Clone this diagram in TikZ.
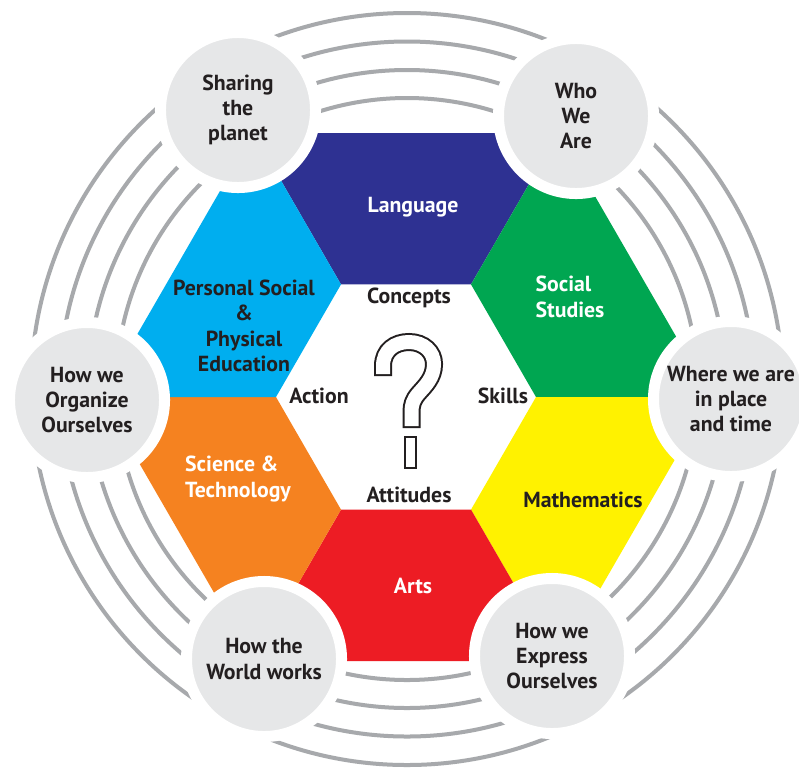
\documentclass[tikz,border=0pt]{standalone}
\usepackage{fontspec}
\setmainfont{PT Sans}
\usepackage{tikz}

\definecolor{langblue}{HTML}{2E3192}
\definecolor{socgreen}{HTML}{00A651}
\definecolor{mathyellow}{HTML}{FFF200}
\definecolor{artred}{HTML}{ED1C24}
\definecolor{sciorange}{HTML}{F58220}
\definecolor{pspecyan}{HTML}{00AEEF}
\definecolor{ringgray}{HTML}{A7A9AC}
\definecolor{discgray}{HTML}{E6E7E8}
\definecolor{inkdark}{HTML}{231F20}

\newcommand{\labelfont}{\fontsize{15.5}{18}\selectfont\bfseries}

\tikzset{
  ring/.style={draw=ringgray, line width=0.1cm},
  topic/.style={circle, fill=discgray, draw=white, line width=0.275cm,
    minimum size=3.875cm, inner sep=0pt, outer sep=0pt,
    text=inkdark, align=center, font=\labelfont},
  subjlight/.style={text=white, font=\labelfont},
  subjdark/.style={text=inkdark, font=\labelfont},
  elem/.style={text=inkdark, font=\labelfont},
}

\begin{document}
\begin{tikzpicture}[x=0.025cm, y=-0.025cm]
\useasboundingbox[fill=white] (0,0) rectangle (799,771);
\coordinate (o) at (407,389);
% inner hexagon
\coordinate (i0) at (536,397);
\coordinate (i1) at (471,284.4);
\coordinate (i2) at (341,284.4);
\coordinate (i3) at (276,397);
\coordinate (i4) at (341,509.6);
\coordinate (i5) at (471,509.6);
% outer hexagon
\coordinate (p0) at (711,397);
\coordinate (p1) at (558.5,133);
\coordinate (p2) at (253.5,133);
\coordinate (p3) at (101,397);
\coordinate (p4) at (253.5,661);
\coordinate (p5) at (558.5,661);
% draws rings
\foreach \r in {291,319,347.5,376}
  \draw[ring] (o) circle[radius=\r];
% draws subject pieces
\fill[langblue] (i1) -- (i2) -- (p2) -- (p1) -- cycle;
\fill[socgreen] (i0) -- (i1) -- (p1) -- (p0) -- cycle;
\fill[mathyellow] (i5) -- (i0) -- (p0) -- (p5) -- cycle;
\fill[artred] (i4) -- (i5) -- (p5) -- (p4) -- cycle;
\fill[sciorange] (i3) -- (i4) -- (p4) -- (p3) -- cycle;
\fill[pspecyan] (i2) -- (i3) -- (p3) -- (p2) -- cycle;
% labels subjects
\node[subjlight] (lang) at (413,207) {Language};
\node[subjlight, align=left] (soc) at (570,297) {Social\\Studies};
\node[subjdark] (math) at (583,500) {Mathematics};
\node[subjlight] (arts) at (413,586) {Arts};
\node[subjlight, align=left] (sci) at (238,479) {Science \&\\Technology};
\node[subjdark, align=center] (pspe) at (244,326) {Personal Social\\\&\\Physical\\Education};
% labels elements
\node[elem] (concepts) at (409,298) {Concepts};
\node[elem] (action) at (319,396) {Action};
\node[elem] (skills) at (503,396) {Skills};
\node[elem] (attitudes) at (409,495) {Attitudes};
% draws question mark
\draw[inkdark, line width=0.45cm]
  (383,376) -- (383,366) .. controls (383,350) and (395,342) .. (409,342)
  .. controls (424,342) and (434,352) .. (434,364)
  .. controls (434,378) and (425,386) .. (418,394)
  .. controls (413,400) and (411.5,405) .. (411.5,412) -- (411.5,428);
\draw[white, line width=0.35cm]
  (383,374) -- (383,366) .. controls (383,350) and (395,342) .. (409,342)
  .. controls (424,342) and (434,352) .. (434,364)
  .. controls (434,378) and (425,386) .. (418,394)
  .. controls (413,400) and (411.5,405) .. (411.5,412) -- (411.5,426);
\draw[inkdark, fill=white, line width=0.05cm] (405,437) rectangle (416,468);
% draws themes
\node[topic] (share) at (238,110) {Sharing\\the\\planet};
\node[topic] (who) at (576,116) {Who\\We\\Are};
\node[topic] (place) at (731,399) {Where we are\\in place\\and time};
\node[topic] (organize) at (87,400) {How we\\Organize\\Ourselves};
\node[topic] (world) at (264,659) {How the\\World works};
\node[topic] (express) at (552,656) {How we\\Express\\Ourselves};
\end{tikzpicture}
\end{document}
